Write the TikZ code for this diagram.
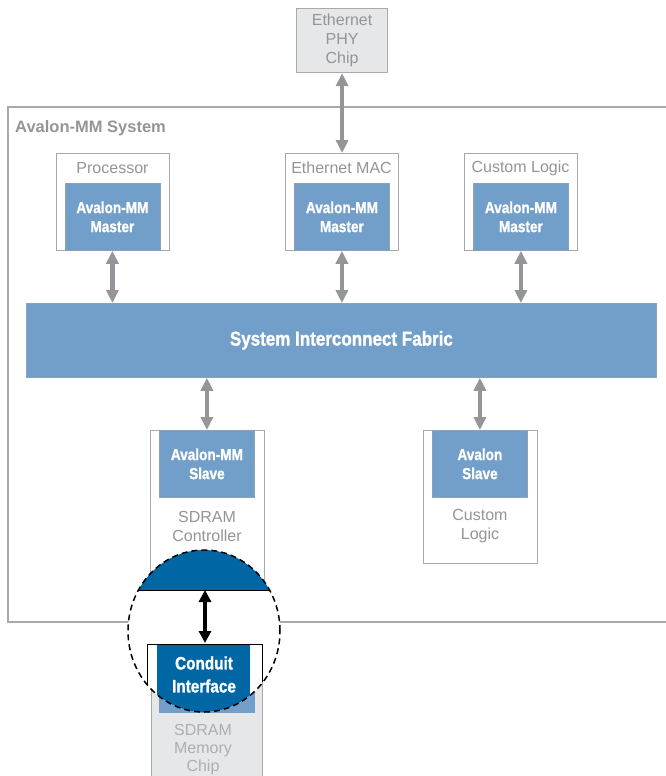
\documentclass[tikz,border=0pt]{standalone}
\usepackage{fontspec}
\setmainfont{Liberation Sans}
\newfontfamily\condbf[FakeStretch=0.85,FakeBold=1.2]{Liberation Sans}
\usetikzlibrary{arrows.meta}

\definecolor{boxgray}{RGB}{167,169,172}
\definecolor{labgray}{RGB}{147,149,152}
\definecolor{avblue}{RGB}{114,159,202}
\definecolor{ifborder}{RGB}{140,160,185}
\definecolor{condblue}{RGB}{0,102,164}
\definecolor{chipgray}{RGB}{230,231,232}
\definecolor{chiptext}{RGB}{172,174,177}

\tikzset{
  outbox/.style={draw=boxgray, fill=white, line width=1.2pt, anchor=north west, inner sep=0pt},
  ifbox/.style={draw=ifborder, fill=avblue, line width=0.8pt, anchor=north west, inner sep=0pt,
    minimum width=95pt, minimum height=67pt, text=white, align=center,
    font=\condbf\bfseries\fontsize{16}{19}\selectfont},
  glabel/.style={text=labgray, align=center, inner sep=0pt, font=\fontsize{16}{19}\selectfont},
  garrow/.style={draw=labgray, line width=4.5pt,
    {Triangle[length=13pt,width=12pt]}-{Triangle[length=13pt,width=12pt]}},
  barrow/.style={draw=black, line width=3.2pt,
    {Triangle[length=12pt,width=12pt]}-{Triangle[length=12pt,width=12pt]}},
  lensline/.style={draw=black, line width=1.5pt, dash pattern=on 6pt off 4pt},
}

\begin{document}
\begin{tikzpicture}[x=1pt,y=-1pt]
  \useasboundingbox (0,0) rectangle (665,776);

  % outer system
  \draw[draw=boxgray, line width=1.2pt] (670,107) -- (8,107) -- (8,622) -- (670,622);
  \node[anchor=west, inner sep=0pt, text=labgray, font=\bfseries\fontsize{16.5}{20}\selectfont]
    (syslbl) at (15,128) {Avalon-MM System};

  % ethernet phy
  \node[outbox, fill=chipgray, minimum width=91pt, minimum height=64pt] (phy) at (296,8) {};
  \node[glabel] (phylbl) at (phy.center) {Ethernet\\PHY\\Chip};

  % masters
  \node[outbox, minimum width=113pt, minimum height=97pt] (proc) at (56,153) {};
  \node[glabel] (proclbl) at (112.5,168) {Processor};
  \node[ifbox] (procm) at (64.5,183) {Avalon-MM\\Master};

  \node[outbox, minimum width=113pt, minimum height=97pt] (mac) at (285,153) {};
  \node[glabel] (maclbl) at (341.5,168) {Ethernet MAC};
  \node[ifbox] (macm) at (294,183) {Avalon-MM\\Master};

  \node[outbox, minimum width=113pt, minimum height=97pt] (cust) at (464,153) {};
  \node[glabel] (custlbl) at (520.5,168) {Custom Logic};
  \node[ifbox] (custm) at (473,183) {Avalon-MM\\Master};

  % fabric
  \node[draw=ifborder, fill=avblue, line width=0.8pt, anchor=north west, inner sep=0pt,
    minimum width=630pt, minimum height=74pt, text=white,
    font=\condbf\bfseries\fontsize{20}{24}\selectfont] (fabric) at (26,303) {System Interconnect Fabric};

  % slaves
  \node[outbox, minimum width=114pt, minimum height=160pt] (ctrl) at (150,430) {};
  \node[ifbox] (ctrls) at (159,430) {Avalon-MM\\Slave};
  \node[glabel] (ctrllbl) at (207,526.5) {SDRAM\\Controller};

  \node[outbox, minimum width=114pt, minimum height=133pt] (logic) at (423,430) {};
  \node[ifbox] (logics) at (432,430) {Avalon\\Slave};
  \node[glabel] (logiclbl) at (480,526.5) {Custom\\Logic};

  % arrows
  \draw[garrow] (phy.south) -- (mac.north);
  \draw[garrow] (procm.south) -- (procm.south |- fabric.north);
  \draw[garrow] (macm.south) -- (macm.south |- fabric.north);
  \draw[garrow] (custm.south) -- (custm.south |- fabric.north);
  \draw[garrow] (fabric.south -| ctrls.north) -- (ctrls.north);
  \draw[garrow] (fabric.south -| logics.north) -- (logics.north);

  % memory chip
  \node[outbox, fill=chipgray, minimum width=111pt, minimum height=150pt] (chip) at (151,643) {};
  \fill[avblue] (159,643) rectangle (255,713);
  \node[inner sep=0pt, align=center, text=chiptext, font=\fontsize{16}{18}\selectfont]
    (chiplbl) at (203,750) {SDRAM\\Memory\\Chip};

  % lens
  \coordinate (lens) at (204,631);
  \fill[white] (lens) ellipse [x radius=76pt, y radius=81pt];
  \begin{scope}
    \clip (110,530) rectangle (300,590);
    \fill[condblue] (lens) ellipse [x radius=76pt, y radius=81pt];
  \end{scope}
  \draw[black, line width=0.8pt] (138.5,590) -- (269.5,590);
  \begin{scope}
    \clip (lens) ellipse [x radius=76pt, y radius=81pt];
    \filldraw[fill=white, draw=black, line width=1pt] (147,644) rectangle (262,740);
    \fill[condblue] (157,644.5) rectangle (250,740);
  \end{scope}
  \draw[lensline] (lens) ellipse [x radius=76pt, y radius=81pt];
  \node[inner sep=0pt, align=center, text=white, font=\condbf\bfseries\fontsize{18}{23}\selectfont]
    (conduit) at (204,674.5) {Conduit\\Interface};

  \coordinate (domebase) at (205,590);
  \draw[barrow] (domebase) -- (domebase |- chip.north);
\end{tikzpicture}
\end{document}
